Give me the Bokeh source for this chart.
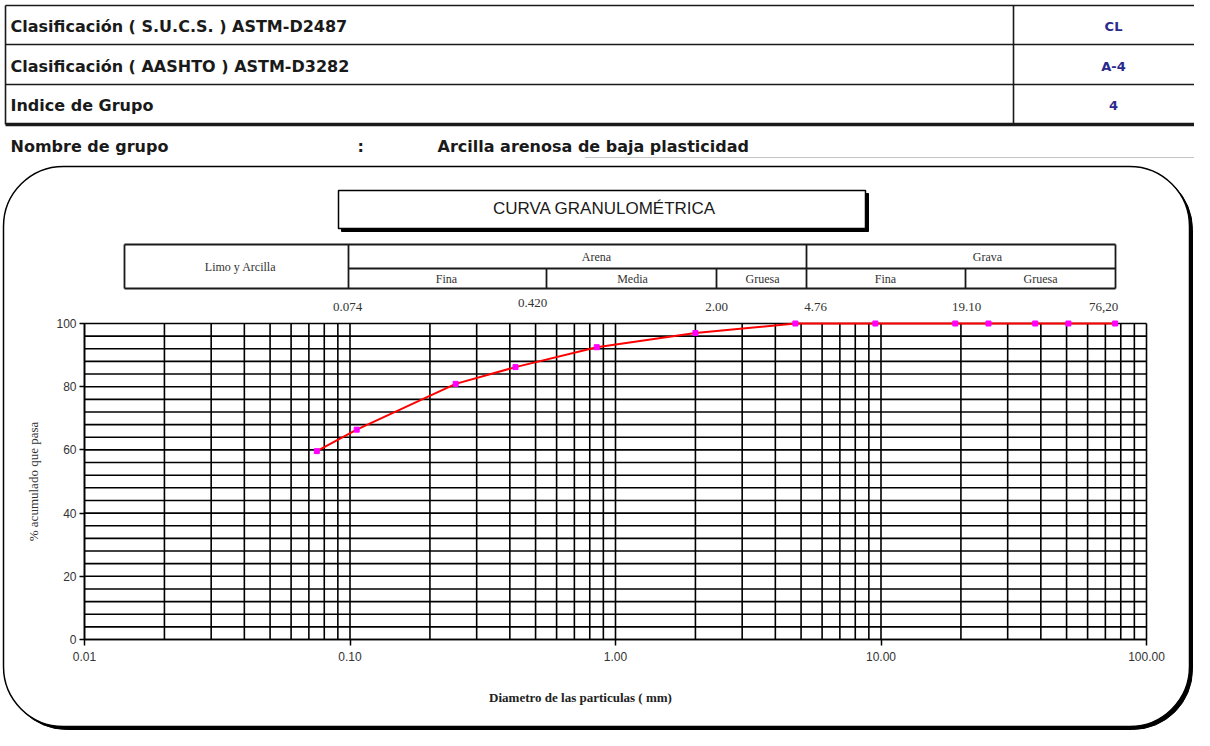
import math
from bokeh.plotting import figure
from bokeh.models import (Range1d, LinearScale, LogAxis, LinearAxis, FixedTicker,
                          PrintfTickFormatter)
from bokeh.core.properties import value
from bokeh.embed import file_html
from bokeh.resources import INLINE

# ---------------- data ----------------
sizes_mm = [76.2, 50.8, 38.1, 25.4, 19.05, 9.525, 4.76, 2.00, 0.850, 0.420, 0.250, 0.106, 0.075]
pct_passing = [100, 100, 100, 100, 100, 100, 100, 97.0, 92.5, 86.2, 80.9, 66.4, 59.6]
x_ticks = [0.01, 0.1, 1, 10, 100]
y_ticks = [0, 20, 40, 60, 80, 100]
info_labels = ["Clasificación ( S.U.C.S. ) ASTM-D2487",
               "Clasificación ( AASHTO ) ASTM-D3282",
               "Indice de Grupo"]
info_values = ["CL", "A-4", "4"]
group_caption = "Nombre de grupo"
group_name = "Arcilla arenosa de baja plasticidad"
chart_title = "CURVA GRANULOMÉTRICA"
band_top = ["Limo y Arcilla", "Arena", "Grava"]
band_sub = ["Fina", "Media", "Gruesa", "Fina", "Gruesa"]
sieve_labels = ["0.074", "0.420", "2.00", "4.76", "19.10", "76,20"]
x_label = "Diametro de las particulas ( mm)"
y_label = "% acumulado que pasa"

# ---------------- layout (picture pixels) ----------------
W, H = 1194, 730
PX0, PY0 = 0, 0
X_LO_PX, X_HI_PX = 84, 1146      # where 0.01 and 100 sit
Y0_PX, Y100_PX = 639, 323        # where 0 % and 100 % sit
dec = (X_HI_PX - X_LO_PX) / (math.log10(x_ticks[-1]) - math.log10(x_ticks[0]))
lstart = math.log10(x_ticks[0]) + (PX0 - X_LO_PX) / dec
lend = math.log10(x_ticks[0]) + (PX0 + W - X_LO_PX) / dec
ppu = (Y0_PX - Y100_PX) / 100.0
ystart = (Y0_PX - (PY0 + H)) / ppu
yend = (Y0_PX - PY0) / ppu

p = figure(width=W, height=H, x_axis_type="log",
           x_range=Range1d(10 ** lstart, 10 ** lend), y_range=Range1d(ystart, yend),
           x_axis_location=None, y_axis_location=None,
           output_backend="svg", toolbar_location=None,
           min_border=0, outline_line_color=None, background_fill_color="white")
p.grid.visible = False
p.extra_x_ranges = {"px": Range1d(PX0, PX0 + W)}
p.extra_y_ranges = {"px": Range1d(PY0 + H, PY0)}
p.extra_x_scales = {"px": LinearScale()}
p.extra_y_scales = {"px": LinearScale()}
PXK = dict(x_range_name="px", y_range_name="px")

INK = "#1a1a1a"
NARROW_S = "Liberation Sans Narrow, Liberation Sans"
NARROW = value(NARROW_S)
SERIF_S = "Liberation Serif"
SERIF = value(SERIF_S)
BOLD = value("DejaVu Sans")

# ---------- top info table ----------
TL, TR, COL = 5, 1194, 1013
rows_y = [5, 44, 84, 123]
p.segment(x0=[TL] * 3, y0=rows_y[:3], x1=[TR] * 3, y1=rows_y[:3], line_color=INK, line_width=1.6, **PXK)
p.segment(x0=[TL], y0=[124], x1=[TR], y1=[124], line_color=INK, line_width=3.5, **PXK)
p.segment(x0=[TL, COL], y0=[5, 5], x1=[TL, COL], y1=[124, 124], line_color=INK, line_width=1.6, **PXK)
row_c = [26, 66, 105]
p.text(x=[10] * 3, y=row_c, text=info_labels, text_font=BOLD, text_font_style="bold",
       text_font_size="16px", text_baseline="middle", text_color=INK, **PXK)
p.text(x=[1113] * 3, y=row_c, text=info_values, text_font=BOLD, text_font_style="bold",
       text_font_size="13px", text_baseline="middle", text_align="center", text_color="#2a2a8c", **PXK)

p.text(x=[10, 357, 437], y=[146] * 3, text=[group_caption, ":", group_name], text_font=BOLD,
       text_font_style="bold", text_font_size="16px", text_baseline="middle", text_color=INK, **PXK)
p.segment(x0=[585], y0=[157], x1=[1194], y1=[157], line_color="#888888", line_width=1,
          line_dash="1 1", **PXK)

# ---------- rounded frame ----------
p.quad(left=[6], right=[1192], top=[169], bottom=[729], fill_color="black", line_color="black",
       border_radius=60, **PXK)
p.quad(left=[3], right=[1189], top=[166], bottom=[726], fill_color="white", line_color="black",
       line_width=1.5, border_radius=60, **PXK)

# ---------- title box ----------
p.quad(left=[341], right=[868], top=[193], bottom=[231], fill_color="black", line_color="black", **PXK)
p.quad(left=[338], right=[865], top=[190], bottom=[228], fill_color="white", line_color="black",
       line_width=1.5, **PXK)
p.text(x=[604], y=[208], text=[chart_title], text_font=NARROW, text_font_size="17px",
       text_baseline="middle", text_align="center", text_color=INK, **PXK)

# ---------- band table ----------
BL, BR, BT, BM, BB = 124, 1115, 244, 268, 288
p.segment(x0=[BL, BL, 348], y0=[BT, BB, BM], x1=[BR, BR, BR], y1=[BT, BB, BM],
          line_color=INK, line_width=1.8, **PXK)
p.segment(x0=[BL, BR, 348, 806, 546, 716, 965], y0=[BT, BT, BT, BT, BM, BM, BM],
          x1=[BL, BR, 348, 806, 546, 716, 965], y1=[BB] * 7,
          line_color=INK, line_width=1.8, **PXK)
p.text(x=[240, 596, 987], y=[266, 256, 256], text=band_top, text_font=SERIF, text_font_size="12px",
       text_baseline="middle", text_align="center", text_color="#333333", **PXK)
p.text(x=[446, 632, 762, 885, 1040], y=[278] * 5, text=band_sub, text_font=SERIF,
       text_font_size="12px", text_baseline="middle", text_align="center", text_color="#333333", **PXK)
p.text(x=[347, 532, 716, 815, 966, 1103], y=[306, 302, 306, 306, 306, 306], text=sieve_labels,
       text_font=SERIF, text_font_size="13px", text_baseline="middle", text_align="center",
       text_color="#333333", **PXK)

# ---------- chart grid (log x, linear y) ----------
e0, e1 = int(round(math.log10(x_ticks[0]))), int(round(math.log10(x_ticks[-1])))
vx = [m * 10.0 ** e for e in range(e0, e1) for m in range(1, 10)] + [x_ticks[-1]]
hy = list(range(0, 101, 4))
p.segment(x0=vx, y0=[y_ticks[0]] * len(vx), x1=vx, y1=[y_ticks[-1]] * len(vx),
          line_color="black", line_width=1.6)
p.segment(x0=[x_ticks[0]] * len(hy), y0=hy, x1=[x_ticks[-1]] * len(hy), y1=hy,
          line_color="black", line_width=1.6)

# ---------- curve ----------
p.line(sizes_mm, pct_passing, line_color="red", line_width=2)
p.scatter(sizes_mm, pct_passing, marker="square", size=5, fill_color="magenta", line_color="magenta")

# ---------- axes ----------
xaxis = LogAxis(ticker=FixedTicker(ticks=x_ticks), formatter=PrintfTickFormatter(format="%.2f"),
                bounds=(x_ticks[0], x_ticks[-1]), fixed_location=0,
                major_tick_out=6, major_tick_in=0, minor_tick_out=0, minor_tick_in=0,
                major_label_standoff=6, axis_line_color="black", axis_line_width=1.5,
                major_tick_line_color="black", major_tick_line_width=1.5,
                major_label_text_font=NARROW_S, major_label_text_font_size="12px",
                major_label_text_color="#333333")
p.add_layout(xaxis, "below")
yaxis = LinearAxis(ticker=FixedTicker(ticks=y_ticks), bounds=(y_ticks[0], y_ticks[-1]),
                   fixed_location=x_ticks[0],
                   major_tick_out=5, major_tick_in=0, minor_tick_out=0, minor_tick_in=0,
                   major_label_standoff=3, axis_line_color="black", axis_line_width=1.5,
                   major_tick_line_color="black", major_tick_line_width=1.5,
                   major_label_text_font=NARROW_S, major_label_text_font_size="12px",
                   major_label_text_color="#333333",
                   axis_label=y_label, axis_label_text_font=SERIF_S, axis_label_text_font_size="13px",
                   axis_label_text_font_style="normal", axis_label_standoff=12,
                   axis_label_text_color="#333333")
p.add_layout(yaxis, "left")

p.text(x=[580], y=[697], text=[x_label], text_font=SERIF, text_font_style="bold",
       text_font_size="13px", text_baseline="middle", text_align="center", text_color="#222222", **PXK)

open("out.html", "w").write(file_html(p, INLINE))
